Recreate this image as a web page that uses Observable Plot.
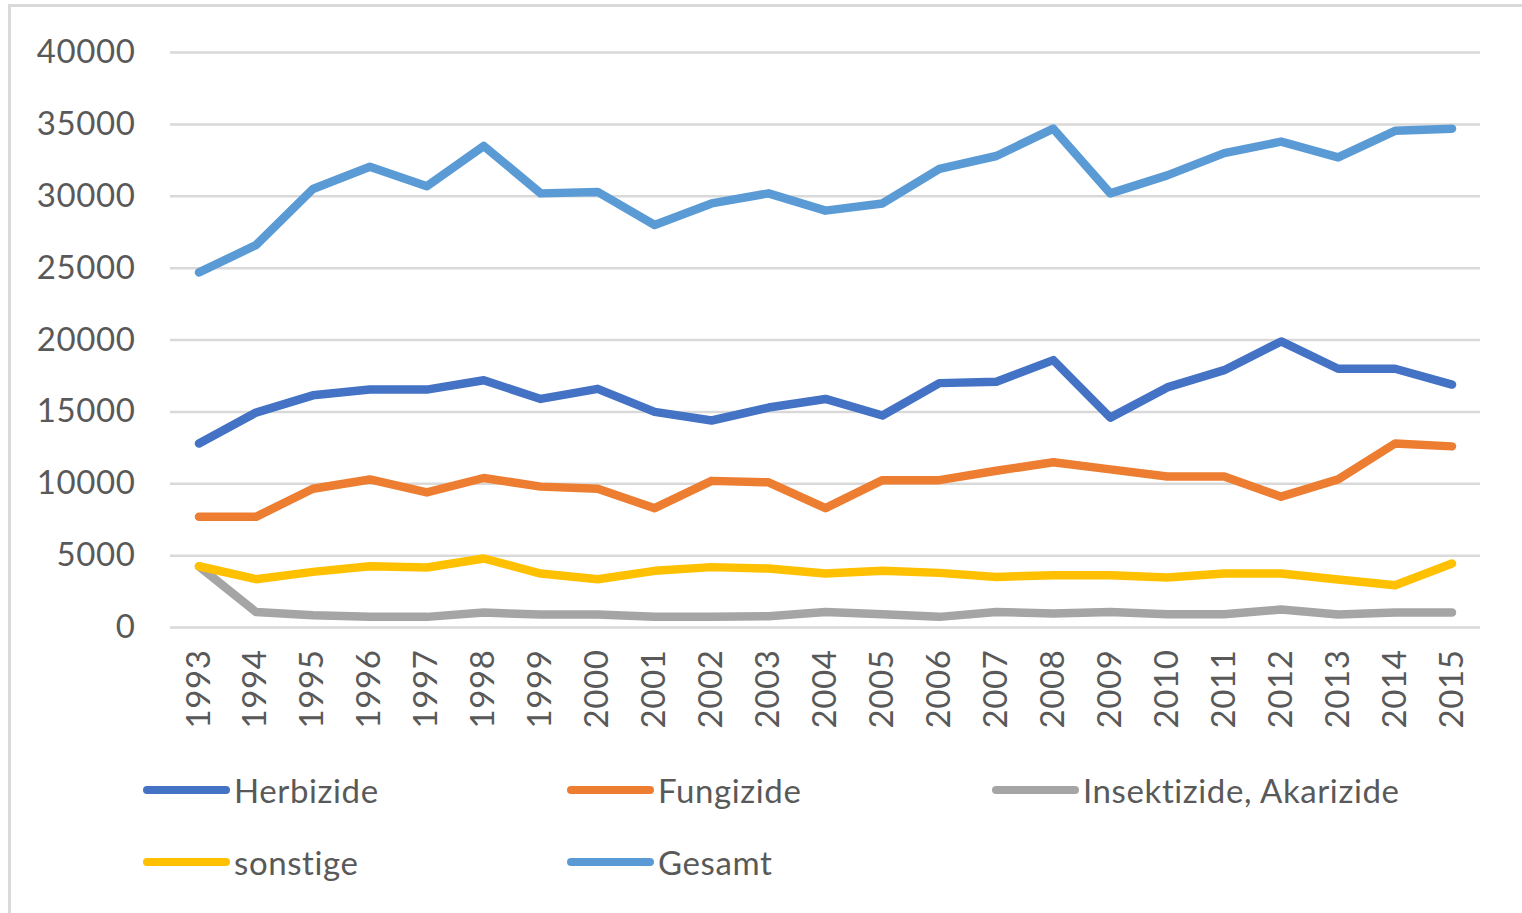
<!DOCTYPE html>
<html><head><meta charset="utf-8">
<script src="https://cdn.jsdelivr.net/npm/d3@7"></script>
<script src="https://cdn.jsdelivr.net/npm/@observablehq/plot@0.6"></script>
<style>
html,body{margin:0;padding:0;background:#fff;overflow:hidden;width:1522px;height:913px;}
#frame{position:absolute;left:8px;top:4px;width:1600px;height:1000px;border:3px solid #d9d9d9;box-sizing:border-box;}
#chart{position:absolute;left:0;top:0;}
.leg{position:absolute;display:flex;align-items:center;height:40px;font-family:Lato,"Open Sans",sans-serif;font-size:33px;letter-spacing:0.6px;color:#595959;white-space:nowrap;}
.sw{width:87px;height:8px;border-radius:4px;margin-right:4px;}
svg text{letter-spacing:0.6px;}
</style></head><body>
<div id="frame"></div>
<div id="chart"></div>
<div id="legend"></div>
<script>
const years = ["1993","1994","1995","1996","1997","1998","1999","2000","2001","2002","2003","2004","2005","2006","2007","2008","2009","2010","2011","2012","2013","2014","2015"];
const herbizide   = [12800,14950,16150,16550,16550,17200,15900,16600,15000,14400,15300,15900,14750,17000,17100,18600,14600,16700,17900,19900,18000,18000,16900];
const fungizide   = [7700,7700,9650,10300,9400,10400,9800,9650,8300,10200,10100,8300,10250,10250,10900,11500,11000,10500,10500,9100,10300,12800,12600];
const insektizide = [4250,1080,860,740,740,1040,900,900,740,740,790,1080,920,740,1080,970,1080,920,920,1250,900,1040,1040];
const sonstige    = [4260,3360,3870,4260,4170,4800,3750,3360,3940,4200,4100,3750,3940,3800,3520,3640,3640,3480,3750,3750,3340,2940,4450];
const gesamt      = [24700,26600,30500,32050,30700,33500,30200,30300,28000,29500,30200,29000,29500,31900,32800,34700,30200,31450,33000,33800,32700,34550,34700];
const seriesNames = ["Herbizide","Fungizide","Insektizide, Akarizide","sonstige","Gesamt"];
const seriesValues = [herbizide,fungizide,insektizide,sonstige,gesamt];
const seriesColors = ["#4472C4","#ED7D31","#A5A5A5","#FFC000","#5B9BD5"];
const yTicks = [0,5000,10000,15000,20000,25000,30000,35000,40000];

const data = [];
seriesNames.forEach((s,i)=>years.forEach((y,j)=>data.push({series:s, year:y, value:seriesValues[i][j]})));

const font = 'Lato, "Open Sans", sans-serif';
const plot = Plot.plot({
  width:1522, height:740,
  marginLeft:170, marginRight:42, marginTop:52, marginBottom:113,
  style:{fontFamily:font, fontSize:"33px", color:"#595959", background:"transparent", overflow:"visible"},
  x:{type:"point", domain:years, padding:0.5, round:false, label:null},
  y:{domain:[0,40000], label:null},
  color:{domain:seriesNames, range:seriesColors},
  marks:[
    Plot.gridY(yTicks,{stroke:"#d9d9d9", strokeOpacity:1, strokeWidth:2.5}),
    Plot.axisY(yTicks,{tickSize:0, tickPadding:35, tickFormat:d=>String(d), label:null, fill:"#595959"}),
    Plot.axisX({tickSize:0, tickPadding:22, tickRotate:-90, label:null, fill:"#595959"}),
    Plot.lineY(data,{x:"year", y:"value", z:"series", stroke:"series", strokeWidth:8.5, strokeLinejoin:"round", strokeLinecap:"round"})
  ]
});
document.getElementById("chart").appendChild(plot);

const legendPos = [[143,790],[567,790],[992,790],[143,862],[567,862]];
const leg = document.getElementById("legend");
seriesNames.forEach((s,i)=>{
  const d = document.createElement("div");
  d.className = "leg";
  d.style.left = legendPos[i][0]+"px";
  d.style.top = (legendPos[i][1]-20)+"px";
  d.innerHTML = `<div class="sw" style="background:${seriesColors[i]}"></div><span>${s}</span>`;
  leg.appendChild(d);
});
</script>
</body></html>
